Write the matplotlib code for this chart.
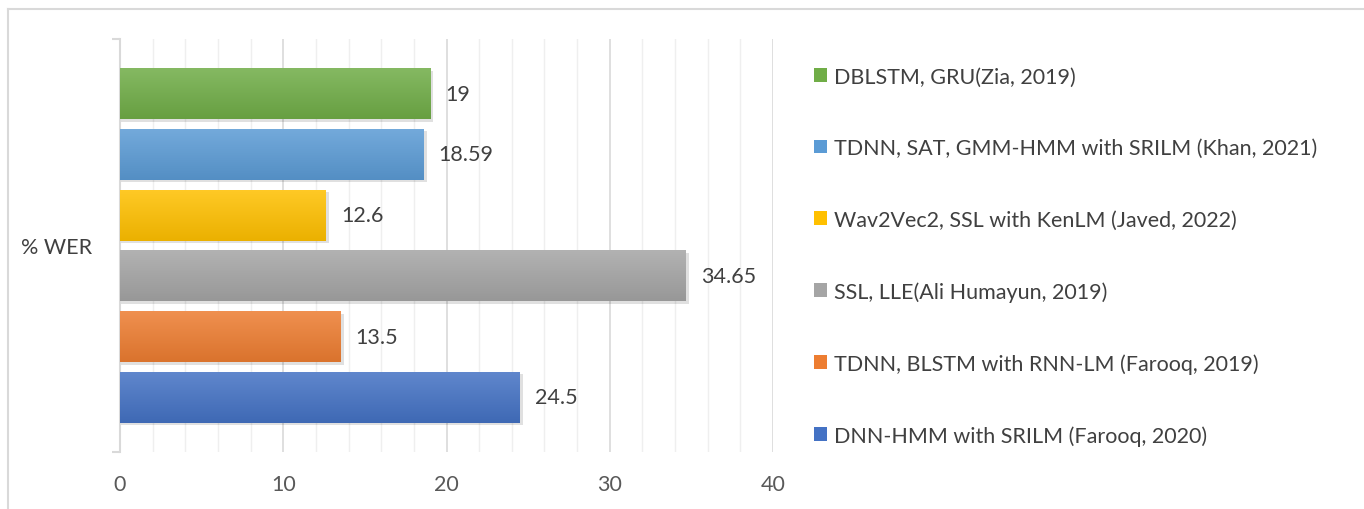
import numpy as np
import matplotlib.pyplot as plt
import matplotlib.colors as mcolors
from matplotlib.lines import Line2D
from matplotlib.patches import Patch

# Data (bottom to top, as drawn)
methods = [
    "DNN-HMM with SRILM (Farooq, 2020)",
    "TDNN, BLSTM with RNN-LM (Farooq, 2019)",
    "SSL, LLE(Ali Humayun, 2019)",
    "Wav2Vec2, SSL with KenLM (Javed, 2022)",
    "TDNN, SAT, GMM-HMM with SRILM (Khan, 2021)",
    "DBLSTM, GRU(Zia, 2019)",
]
wer = [24.5, 13.5, 34.65, 12.6, 18.59, 19]
value_labels = ["24.5", "13.5", "34.65", "12.6", "18.59", "19"]
colors = ["#4472c4", "#ed7d31", "#a5a5a5", "#ffc000", "#5b9bd5", "#70ad47"]
category = "% WER"

plt.rcParams['font.family'] = ['Lato', 'DejaVu Sans']
text_col = "#595959"
grid_col = "#d9d9d9"

fig = plt.figure(figsize=(13.64, 5.10), dpi=100)
ax = fig.add_axes([120 / 1364, 1 - 453 / 510, (773 - 120) / 1364, (453 - 40) / 510])

# outer chart border (cropped at right/bottom)
fig.add_artist(Line2D([8 / 1364, 1.01], [1 - 10 / 510] * 2, color=grid_col, lw=1.5))
fig.add_artist(Line2D([8 / 1364] * 2, [1 - 10 / 510, -0.01], color=grid_col, lw=1.5))


def shade(c, f):
    r = np.array(mcolors.to_rgb(c))
    if f > 0:
        return r + (1 - r) * f
    return r * (1 + f)


pos = np.arange(len(wer))
h = 0.84
for y, v, c in zip(pos, wer, colors):
    # soft shadow
    ax.barh(y - 0.04, v + 0.15, height=h, left=0.05, color="k", alpha=0.12, zorder=2, lw=0)
    bar = ax.barh(y, v, height=h, color=c, zorder=3, lw=0)[0]
    top, bot = shade(c, 0.15), shade(c, -0.08)
    grad = np.linspace(0, 1, 64)[:, None, None]
    img = top * (1 - grad) + bot * grad
    im = ax.imshow(img, extent=[0, v, y - h / 2, y + h / 2], aspect="auto",
                   origin="upper", zorder=4, interpolation="bilinear")
    im.set_clip_path(bar)

for y, v, lab in zip(pos, wer, value_labels):
    ax.annotate(lab, (v, y), xytext=(11, 0), textcoords="offset points",
                va="center", ha="left", fontsize=15.5, color="#404040")

ax.set_xlim(0, 40)
ax.set_ylim(-0.9, 5.9)
ax.set_xticks([0, 10, 20, 30, 40])
ax.set_xticks(np.arange(0, 41, 2), minor=True)
ax.xaxis.grid(True, which="major", color=grid_col, lw=1.2, zorder=0)
ax.xaxis.grid(True, which="minor", color="#efefef", lw=1.0, zorder=0)
ax.set_axisbelow(True)
ax.tick_params(axis="x", which="both", length=0, labelsize=15.5, labelcolor=text_col, pad=16)

ax.set_yticks([2.5])
ax.set_yticklabels([category])
ax.set_yticks([-0.9, 5.9], minor=True)
ax.tick_params(axis="y", which="major", length=0, labelsize=15.5, labelcolor="#404040", pad=20)
ax.tick_params(axis="y", which="minor", length=6, width=1.5, color=grid_col)

for s in ["top", "right", "bottom"]:
    ax.spines[s].set_visible(False)
ax.spines["left"].set_color(grid_col)
ax.spines["left"].set_linewidth(1.5)

handles = [Patch(facecolor=c, edgecolor="none") for c in colors[::-1]]
leg = fig.legend(handles, methods[::-1], loc="upper left",
                 bbox_to_anchor=(805 / 1364, 1 - 59 / 510), frameon=False,
                 fontsize=15.5, labelcolor="#404040", handlelength=0.62,
                 handleheight=0.62, handletextpad=0.35, labelspacing=2.39,
                 borderaxespad=0)

fig.savefig("out.png", dpi=100)
